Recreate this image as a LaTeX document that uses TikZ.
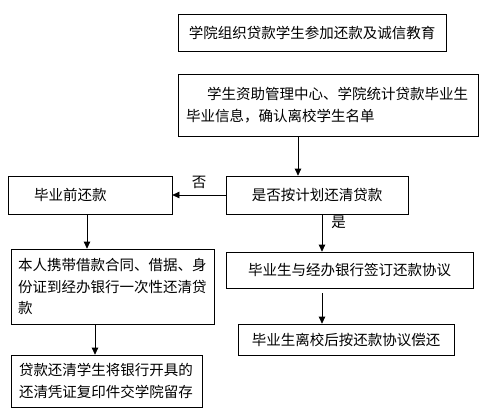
\documentclass[tikz,border=0pt]{standalone}
\usepackage{fontspec}
\newfontfamily\cjk{Noto Sans CJK SC}
\usetikzlibrary{arrows.meta}

\begin{document}
\begin{tikzpicture}[
    x=1pt, y=-1pt, % Pixelraster, y nach unten
    >={Triangle[width=6.5pt,length=7pt]}, % Pfeilspitze
    box/.style={draw, line width=0.7pt, inner sep=0pt,
      font=\cjk\fontsize{14.5}{21.5}\selectfont}, % Kasten
    flow/.style={line width=0.7pt, ->}, % Ablaufpfeil
    lbl/.style={font=\cjk\fontsize{14.5}{14.5}\selectfont, inner sep=0pt}, % Ja/Nein
  ]

    \useasboundingbox (0,0) rectangle (495,418);

    % Kästen oben
    \node[box, minimum width=268pt, minimum height=37pt] (edu) at (312,32.5)
      {学院组织贷款学生参加还款及诚信教育};
    \node[box, minimum width=300pt, minimum height=62pt, text width=284pt, align=left] (info) at (328,105)
      {\hspace*{21pt}学生资助管理中心、学院统计贷款毕业生\\毕业信息，确认离校学生名单};
    \node[box, minimum width=182pt, minimum height=38pt] (check) at (317,195)
      {是否按计划还清贷款};

    % linker Zweig
    \node[box, minimum width=164pt, minimum height=38pt, text width=112pt, align=left] (early) at (90,195)
      {毕业前还款};
    \node[box, minimum width=203pt, minimum height=75pt, text width=189pt, align=left] (once) at (112.5,286.5)
      {本人携带借款合同、借据、身\\份证到经办银行一次性还清贷\\款};
    \node[box, minimum width=191pt, minimum height=52pt, text width=175pt, align=left] (proof) at (106.5,381)
      {贷款还清学生将银行开具的\\还清凭证复印件交学院留存};

    % rechter Zweig
    \node[box, minimum width=247pt, minimum height=36pt] (sign) at (349.5,270)
      {毕业生与经办银行签订还款协议};
    \node[box, minimum width=216pt, minimum height=31pt] (leave) at (346,339.5)
      {毕业生离校后按还款协议偿还};

    % Pfeile
    \draw[flow] ([xshift=-30pt]info.south) -- ([xshift=-30pt]info.south |- check.north);
    \draw[flow] (check.west) -- (early.east) node[lbl, midway, above=6pt] {否};
    \draw[flow] ([xshift=5pt]check.south) -- ([xshift=5pt]check.south |- sign.north)
      node[lbl, pos=0.21, right=9pt] {是};
    \draw[flow] ([xshift=-3pt]early.south) -- ([xshift=-3pt]early.south |- once.north);
    \draw[flow] ([xshift=-17.5pt]once.south) -- ([xshift=-17.5pt]once.south |- proof.north);
    \draw[flow] ([xshift=-27.5pt,yshift=-5pt]sign.south) -- ([xshift=-27.5pt]sign.south |- leave.north);

\end{tikzpicture}
\end{document}
